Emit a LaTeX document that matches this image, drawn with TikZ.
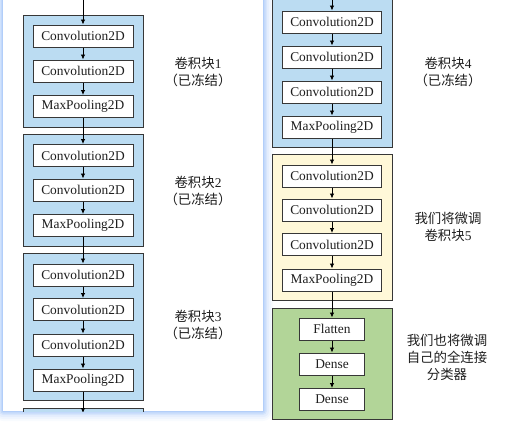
\documentclass[tikz,border=0pt]{standalone}
\usepackage{fontspec}
\setmainfont{Liberation Serif}
\newfontfamily\cjk{Noto Sans CJK SC}
\usetikzlibrary{arrows.meta}
\definecolor{frozen}{RGB}{187,220,242}
\definecolor{tune}{RGB}{255,248,216}
\definecolor{clsf}{RGB}{178,213,152}
\definecolor{edge}{RGB}{55,55,55}
\definecolor{ink}{RGB}{30,30,30}
\definecolor{glow}{RGB}{120,170,245}
\newcommand{\lpar}{\makebox[0.5em][r]{（}}
\newcommand{\rpar}{\makebox[0.5em][l]{）}}
\tikzset{
  layerbox/.style={draw=edge, line width=1pt, fill=white, minimum width=100pt, minimum height=22pt, inner sep=0pt, text=ink, font=\fontsize{13.4}{16}\selectfont},
  widebox/.style={layerbox, minimum width=99pt},
  narrowbox/.style={layerbox, minimum width=65pt},
  blockbox/.style={draw=edge, line width=1pt, minimum width=120pt, inner sep=0pt},
  note/.style={align=center, text=ink, font=\fontsize{13.4}{17}\selectfont},
  flow/.style={draw=black, line width=0.8pt, -{Latex[length=5pt,width=4.5pt]}}
}
\begin{document}
\begin{tikzpicture}[x=1pt,y=-1pt]
\useasboundingbox (0,0) rectangle (507,426);
% panel glow
\foreach \d/\o in {10/0.05,8/0.07,6/0.09,4/0.13,2.5/0.18,1.2/0.25}{
  \fill[glow, opacity=\o, rounded corners=\d pt] (3-\d,-20) rectangle (263+\d,411+\d);
}
\fill[white] (3,-20) rectangle (263,411);
% left column (clipped by panel)
\begin{scope}
\clip (3,-20) rectangle (263,411);
\node[blockbox, fill=frozen, minimum height=112pt] (B1) at (83,71) {};
\node[blockbox, fill=frozen, minimum height=112pt] (B2) at (83,190) {};
\node[blockbox, fill=frozen, minimum height=147pt] (B3) at (83,326.5) {};
\node[blockbox, fill=frozen, minimum height=100pt] (B4L) at (83,458) {};
\node[layerbox] (L11) at (83,36) {Convolution2D};
\node[layerbox] (L12) at (83,71) {Convolution2D};
\node[layerbox] (L13) at (83,106.5) {MaxPooling2D};
\node[layerbox] (L21) at (83,155.5) {Convolution2D};
\node[layerbox] (L22) at (83,190) {Convolution2D};
\node[layerbox] (L23) at (83,225.5) {MaxPooling2D};
\node[layerbox] (L31) at (83,275) {Convolution2D};
\node[layerbox] (L32) at (83,309.5) {Convolution2D};
\node[layerbox] (L33) at (83,345) {Convolution2D};
\node[layerbox] (L34) at (83,380) {MaxPooling2D};
\coordinate (Lin) at (83,-2);
\coordinate (Lout) at (83,413);
\draw[flow] (Lin) -- (L11);
\draw[flow] (L11) -- (L12);
\draw[flow] (L12) -- (L13);
\draw[flow] (L13) -- (L21);
\draw[flow] (L21) -- (L22);
\draw[flow] (L22) -- (L23);
\draw[flow] (L23) -- (L31);
\draw[flow] (L31) -- (L32);
\draw[flow] (L32) -- (L33);
\draw[flow] (L33) -- (L34);
\draw[flow] (L34) -- (Lout);
\end{scope}
\node[note] (N1) at (198,71.5) {{\cjk 卷积块}1\\{\cjk\lpar 已冻结\rpar}};
\node[note] (N2) at (198,191) {{\cjk 卷积块}2\\{\cjk\lpar 已冻结\rpar}};
\node[note] (N3) at (198,325) {{\cjk 卷积块}3\\{\cjk\lpar 已冻结\rpar}};
% right column
\node[blockbox, fill=frozen, minimum height=149pt] (B4) at (332,72.5) {};
\node[blockbox, fill=tune, minimum height=146pt] (B5) at (332,227) {};
\node[blockbox, fill=clsf, minimum height=111pt] (B6) at (332,363.5) {};
\node[widebox] (R41) at (332,22) {Convolution2D};
\node[widebox] (R42) at (332,57) {Convolution2D};
\node[widebox] (R43) at (332,92) {Convolution2D};
\node[widebox] (R44) at (332,127) {MaxPooling2D};
\node[widebox] (R51) at (332,176) {Convolution2D};
\node[widebox] (R52) at (332,210) {Convolution2D};
\node[widebox] (R53) at (332,244.5) {Convolution2D};
\node[widebox] (R54) at (332,280) {MaxPooling2D};
\node[narrowbox] (R61) at (332,329) {Flatten};
\node[narrowbox] (R62) at (332,364) {Dense};
\node[narrowbox] (R63) at (332,399.5) {Dense};
\coordinate (Rin) at (332,-2);
\draw[flow] (Rin) -- (R41);
\draw[flow] (R41) -- (R42);
\draw[flow] (R42) -- (R43);
\draw[flow] (R43) -- (R44);
\draw[flow] (R44) -- (R51);
\draw[flow] (R51) -- (R52);
\draw[flow] (R52) -- (R53);
\draw[flow] (R53) -- (R54);
\draw[flow] (R54) -- (R61);
\draw[flow] (R61) -- (R62);
\draw[flow] (R62) -- (R63);
\node[note] (N4) at (448,71.5) {{\cjk 卷积块}4\\{\cjk\lpar 已冻结\rpar}};
\node[note] (N5) at (448,227) {{\cjk 我们将微调}\\{\cjk 卷积块}5};
\node[note] (N6) at (447,357) {{\cjk 我们也将微调}\\{\cjk 自己的全连接}\\{\cjk 分类器}};
\end{tikzpicture}
\end{document}
